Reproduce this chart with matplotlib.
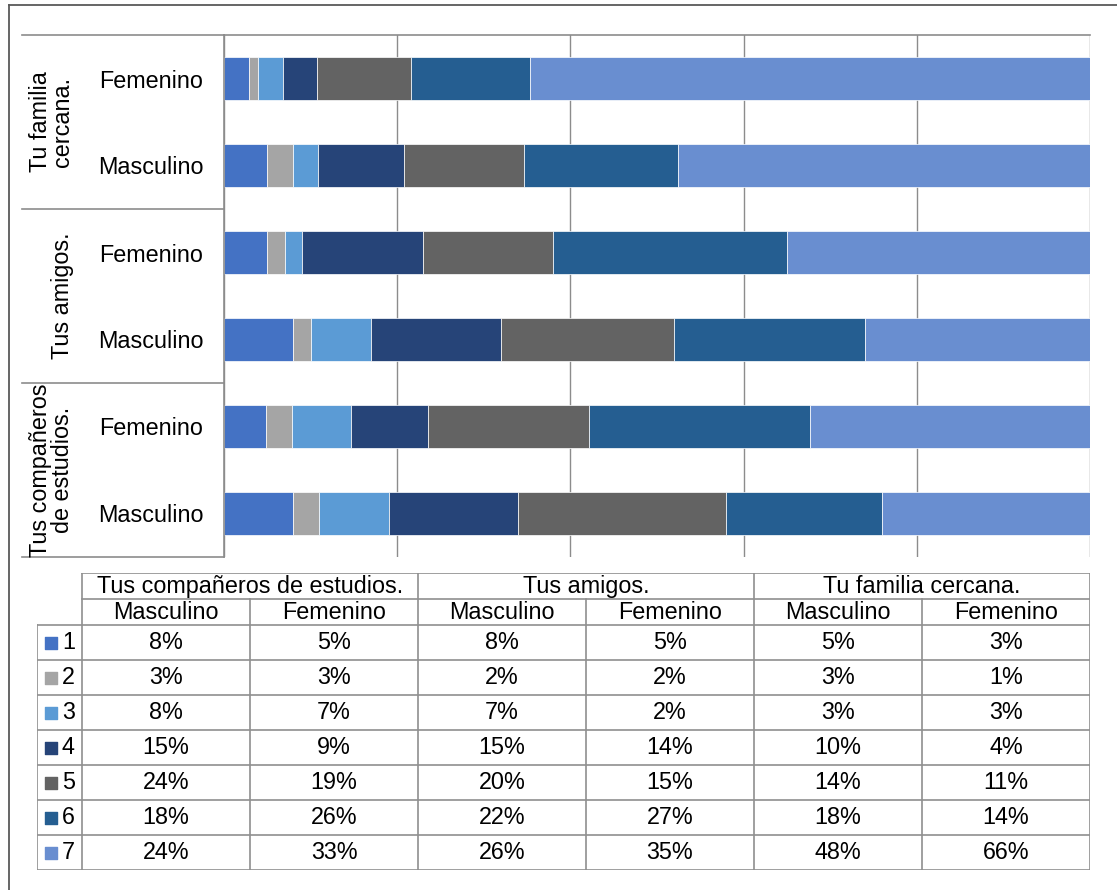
import matplotlib
matplotlib.use("Agg")
import matplotlib.pyplot as plt
from matplotlib.lines import Line2D
import numpy as np

plt.rcParams["font.family"] = ["Liberation Sans", "DejaVu Sans"]

# Categories, in table order (bottom bar first)
groups = ["Tus compañeros de estudios.", "Tus amigos.", "Tu familia cercana."]
group_labels = ["Tus compañeros\nde estudios.", "Tus amigos.", "Tu familia\ncercana."]
genders = ["Masculino", "Femenino", "Masculino", "Femenino", "Masculino", "Femenino"]
levels = ["1", "2", "3", "4", "5", "6", "7"]

# Percentages per level (one value per category column)
level_1 = [8, 5, 8, 5, 5, 3]
level_2 = [3, 3, 2, 2, 3, 1]
level_3 = [8, 7, 7, 2, 3, 3]
level_4 = [15, 9, 15, 14, 10, 4]
level_5 = [24, 19, 20, 15, 14, 11]
level_6 = [18, 26, 22, 27, 18, 14]
level_7 = [24, 33, 26, 35, 48, 66]

colors = ["#4472C4", "#A5A5A5", "#5B9BD5", "#264478", "#636363", "#255E91", "#698ED0"]
grid_col = "#8C8C8C"
FS = 16.8

W, H = 1117, 890
fig = plt.figure(figsize=(W / 100, H / 100), dpi=100)

series = np.array([level_1, level_2, level_3, level_4, level_5, level_6, level_7], dtype=float)
shares = series / series.sum(axis=0) * 100  # 100% stacked

# Bar chart
ax = fig.add_axes([224 / W, 1 - 557 / H, 866 / W, 522 / H])
ypos = np.arange(len(genders))
left = np.zeros(len(genders))
for vals, c in zip(shares, colors):
    ax.barh(ypos, vals, left=left, height=0.5, color=c, edgecolor="white", linewidth=0.5)
    left += vals
ax.set_xlim(0, 100)
ax.set_ylim(-0.5, len(genders) - 0.5)
ax.set_xticks(range(0, 101, 20))
ax.grid(axis="x", color=grid_col, linewidth=1)
ax.set_axisbelow(True)
ax.tick_params(axis="x", length=0, labelbottom=False)
ax.set_yticks(ypos)
ax.set_yticklabels(genders, fontsize=FS)
ax.tick_params(axis="y", length=0, pad=15)
for s in ["right", "bottom"]:
    ax.spines[s].set_visible(False)
for s in ["top", "left"]:
    ax.spines[s].set_color(grid_col)
    ax.spines[s].set_linewidth(1.2)

# group labels and separators on the left
ytr = ax.get_yaxis_transform()
for i, lab in enumerate(group_labels):
    ax.text(-0.173, 2 * i + 0.5, lab, transform=ytr, rotation=90, ha="right", va="center",
            fontsize=FS, linespacing=0.95, multialignment="center")
for yb in [-0.5, 1.5, 3.5, 5.5]:
    ax.plot([-0.233, 0], [yb, yb], transform=ytr, color=grid_col, lw=1.2, clip_on=False)

# Data table
tax = fig.add_axes([37 / W, 1 - 870 / H, 1053 / W, 297 / H])
lc = -45 / 168
tax.set_xlim(lc, 6)
tax.set_ylim(7, -1.5)
tax.axis("off")
tcol = "#8F8F8F"
lw = 1.2
# horizontal lines
tax.plot([0, 6], [-1.5, -1.5], color=tcol, lw=lw)
tax.plot([0, 6], [-0.75, -0.75], color=tcol, lw=lw)
for r in range(8):
    tax.plot([lc, 6], [r, r], color=tcol, lw=lw)
# vertical lines
for x in [0, 2, 4, 6]:
    tax.plot([x, x], [-1.5, 7], color=tcol, lw=lw)
for x in [1, 3, 5]:
    tax.plot([x, x], [-0.75, 7], color=tcol, lw=lw)
tax.plot([lc, lc], [0, 7], color=tcol, lw=lw)

for g, name in enumerate(groups):
    tax.text(2 * g + 1, -1.125, name, ha="center", va="center", fontsize=FS)
for j, gname in enumerate(genders):
    tax.text(j + 0.5, -0.375, gname, ha="center", va="center", fontsize=FS)
for i, (lev, row) in enumerate(zip(levels, series)):
    tax.scatter([-31 / 168], [i + 0.5], marker="s", s=70, color=colors[i], clip_on=False)
    tax.text(-20 / 168, i + 0.5, lev, ha="left", va="center", fontsize=FS)
    for j, v in enumerate(row):
        tax.text(j + 0.5, i + 0.5, f"{int(v)}%", ha="center", va="center", fontsize=FS)

# outer frame
fig.add_artist(Line2D([9 / W, 9 / W], [1 - 5 / H, 0], color="#595959", lw=1.3))
fig.add_artist(Line2D([9 / W, 1], [1 - 5 / H, 1 - 5 / H], color="#595959", lw=1.3))

fig.savefig("out.png", dpi=100)
